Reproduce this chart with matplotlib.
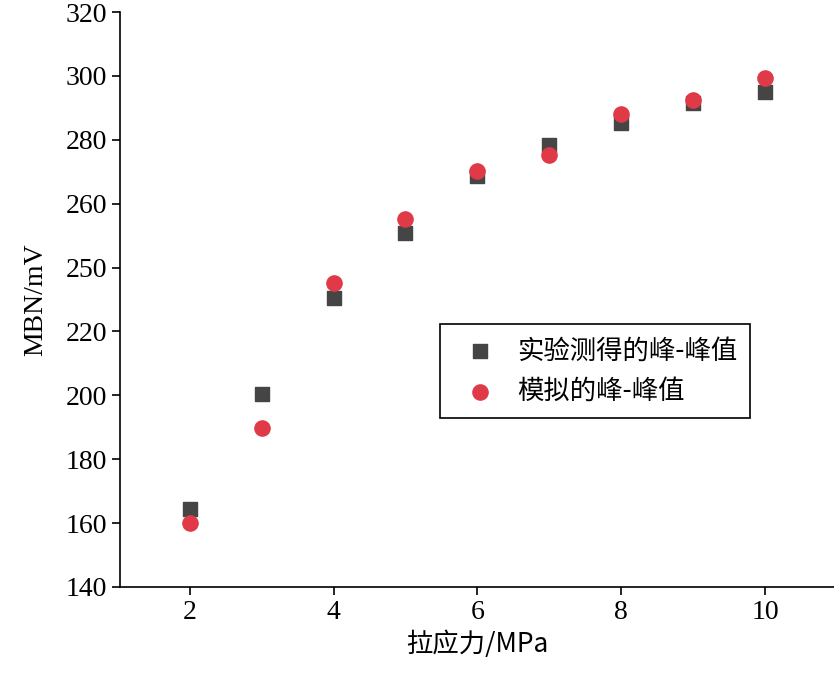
import matplotlib
matplotlib.use("Agg")
import matplotlib.pyplot as plt
from matplotlib.font_manager import FontProperties

x = [2, 3, 4, 5, 6, 7, 8, 9, 10]
measured = [164.4, 200.4, 230.5, 250.8, 268.7, 278.4, 285.3, 291.5, 295.0]
simulated = [160.0, 189.8, 235.2, 255.2, 270.2, 275.3, 288.1, 292.5, 299.4]
yticks = [140, 160, 180, 200, 220, 240, 260, 280, 300, 320]
ytick_labels = ["140", "160", "180", "200", "220", "250", "260", "280", "300", "320"]
xticks = [2, 4, 6, 8, 10]

plt.rcParams["font.family"] = "Liberation Serif"
cjk = FontProperties(family=["Noto Sans CJK SC", "Noto Sans CJK JP", "Noto Sans CJK TC", "Noto Sans CJK KR"], size=19)

fig = plt.figure(figsize=(8.34, 6.85), dpi=100)
ax = fig.add_axes([120/834, 1-587/685, 714/834, 575/685])
ax.scatter(x, measured, marker="s", s=100, color="#454545", label="实验测得的峰-峰值", zorder=3)
ax.scatter(x, simulated, marker="o", s=120, color="#e03a48", label="模拟的峰-峰值", zorder=3)
ax.set_xlim(1.03, 10.96)
ax.set_ylim(140, 320)
ax.set_yticks(yticks)
ax.set_yticklabels(ytick_labels)
ax.set_xticks(xticks)
ax.tick_params(labelsize=20, length=6, width=1.2)
for s in ["top", "right"]:
    ax.spines[s].set_visible(False)
for s in ["left", "bottom"]:
    ax.spines[s].set_linewidth(1.2)
ax.set_xlabel("拉应力/MPa", fontproperties=cjk)
ax.set_ylabel("MBN/mV", fontsize=20, labelpad=12)
leg = ax.legend(loc="upper left", bbox_to_anchor=(0.43, 0.48), prop=cjk, fancybox=False,
                edgecolor="black", handletextpad=0.4, borderpad=0.5, framealpha=1)
leg.get_frame().set_linewidth(1.2)
fig.savefig("out.png", dpi=100)
